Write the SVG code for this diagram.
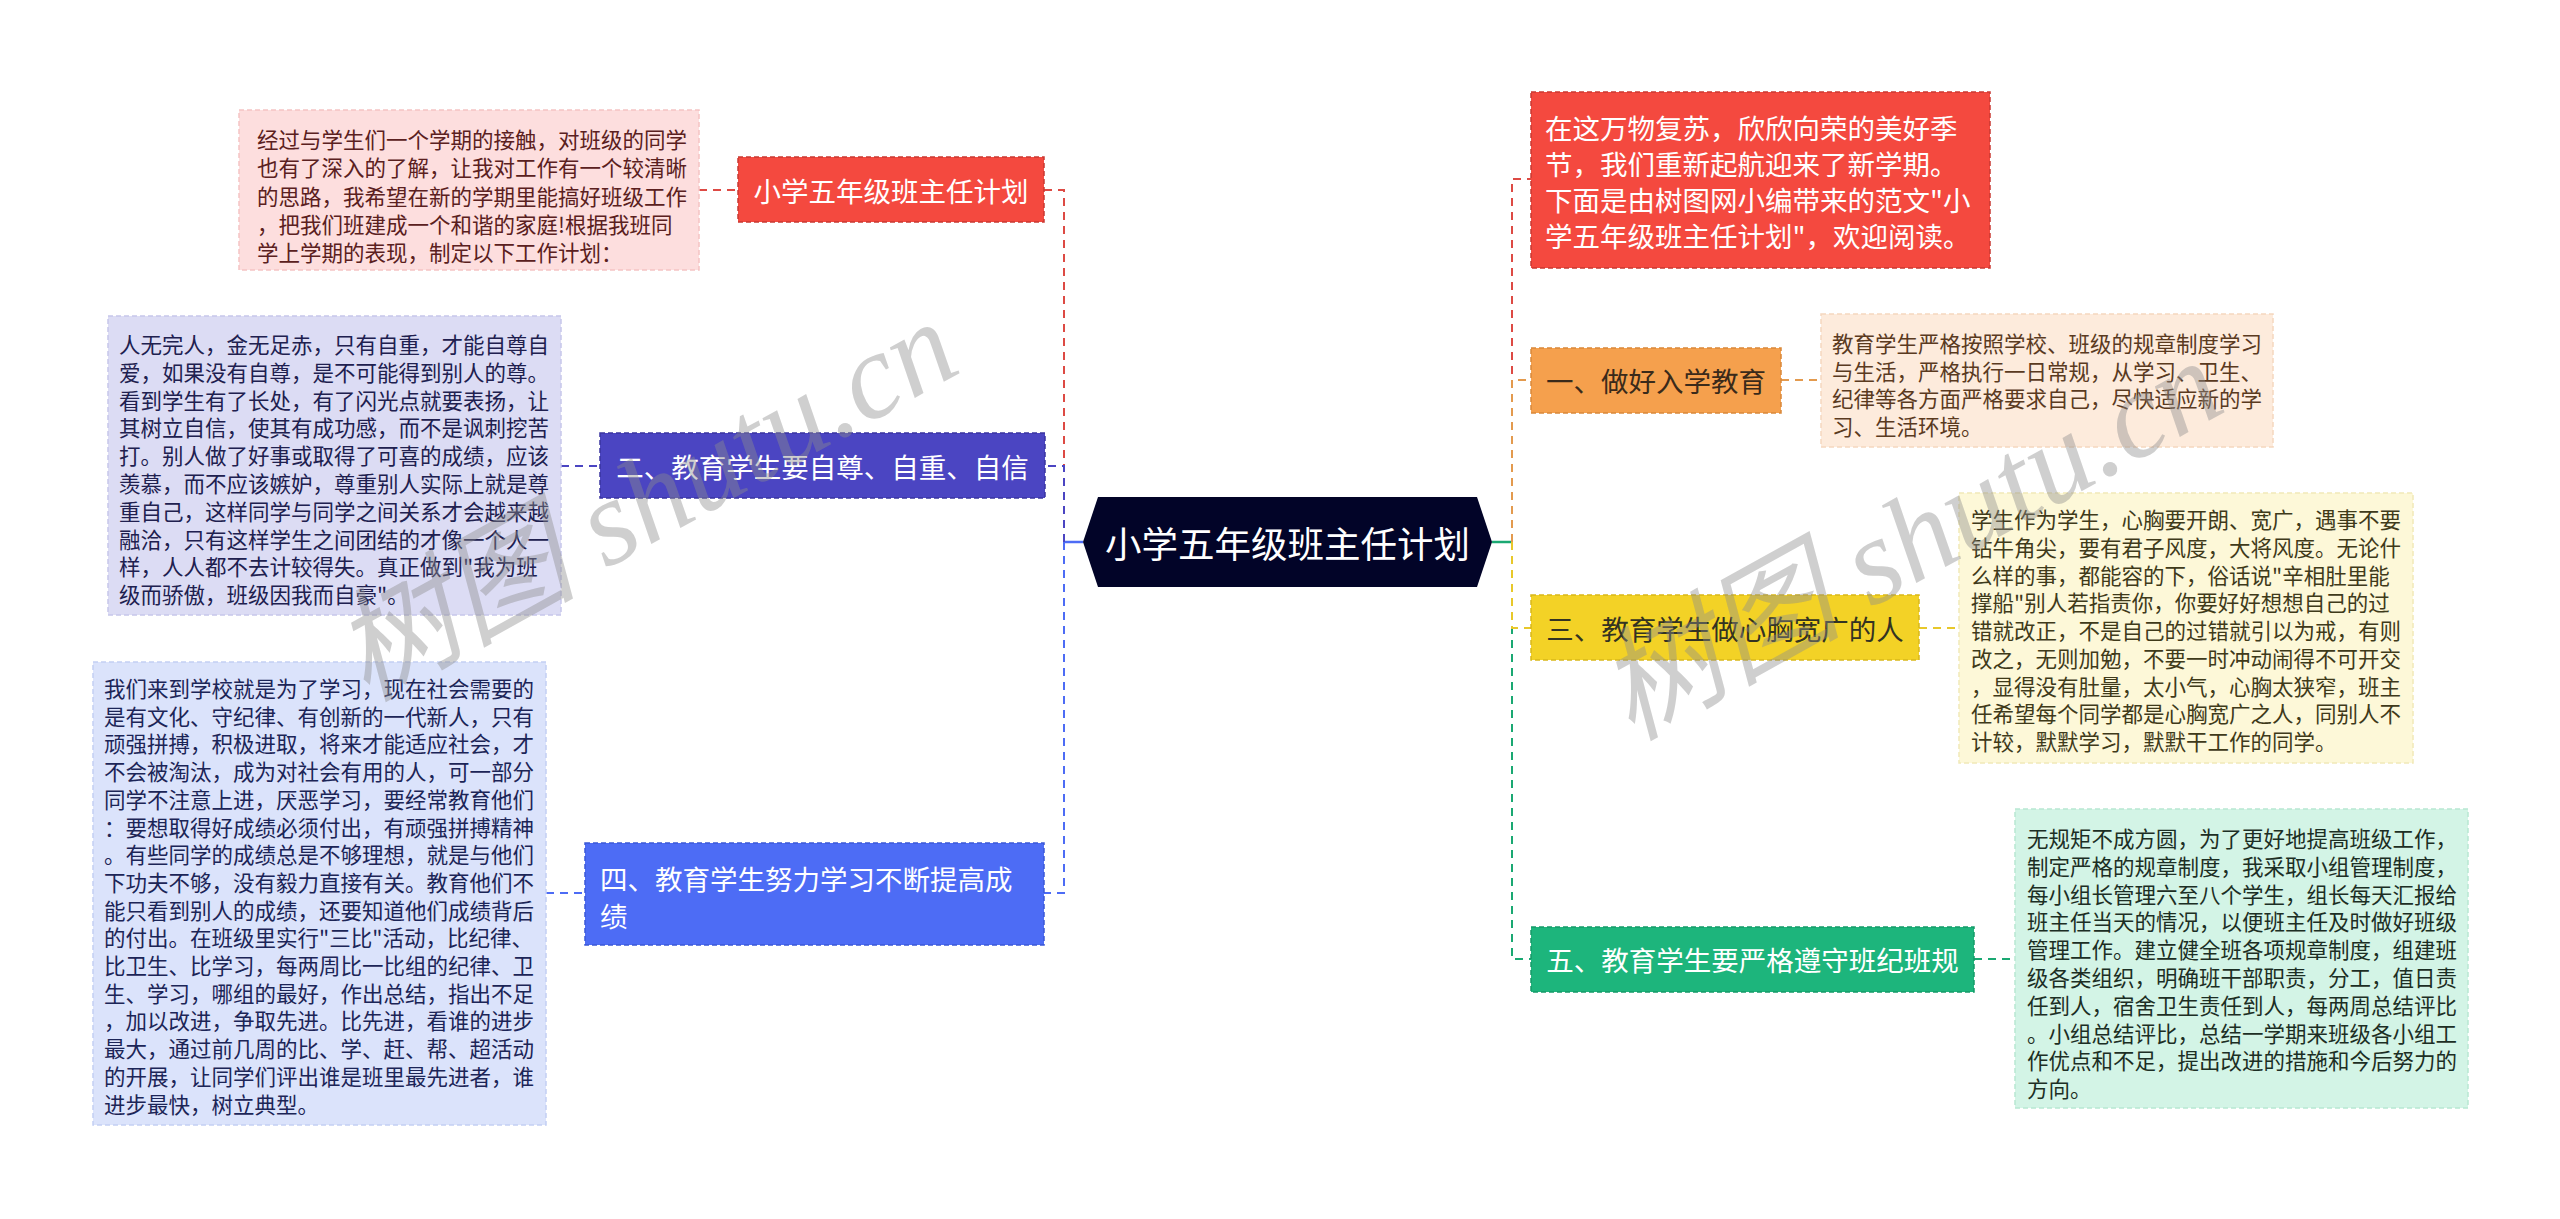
<svg xmlns="http://www.w3.org/2000/svg" width="2560" height="1219" viewBox="0 0 2560 1219">
<style>
text{font-family:"Noto Sans CJK SC","Noto Sans",sans-serif;}
.d{font-size:21.5px;}
.l{font-size:27.5px;}
.lw{fill:#ffffff;}
.c{fill:none;stroke-width:2;stroke-dasharray:8 6;}
.s{fill:none;stroke-width:2.5;}
.b{stroke-width:1.5;stroke-dasharray:5 3;}
.wm{font-family:"Liberation Serif","Noto Sans CJK SC",serif;font-style:italic;font-size:122px;fill:#8c8c8c;fill-opacity:0.42;}
</style>
<rect width="2560" height="1219" fill="#ffffff"/>
<g id="connectors">
<path class="s" stroke="#4d6cf5" d="M1083,542 H1064"/>
<path class="s" stroke="#1aa872" d="M1492,542 H1512"/>
<path class="c" stroke="#dd4a44" d="M1064,542 V190 H1044"/>
<path class="c" stroke="#4b45c2" d="M1064,542 V466 H1045"/>
<path class="c" stroke="#4d6cf5" d="M1064,542 V893 H1044"/>
<path class="c" stroke="#dd4a44" d="M1512,542 V179 H1531"/>
<path class="c" stroke="#e39a4e" d="M1512,542 V380 H1531"/>
<path class="c" stroke="#1aa872" d="M1512,542 V959 H1531"/>
<path class="c" stroke="#e8c82a" d="M1512,542 V628 H1531"/>
<path class="c" stroke="#dd4a44" d="M699,190 H738"/>
<path class="c" stroke="#4b45c2" d="M561,466 H600"/>
<path class="c" stroke="#4d6cf5" d="M546,893 H585"/>
<path class="c" stroke="#e39a4e" d="M1781,380 H1821"/>
<path class="c" stroke="#e8c82a" d="M1919,628 H1959"/>
<path class="c" stroke="#1aa872" d="M1974,959 H2015"/>
</g>
<g id="center">
<polygon points="1083,542 1098,497 1477,497 1492,542 1477,587 1098,587" fill="#020428"/>
<text x="1287.5" y="542" font-size="36.5" fill="#ffffff" text-anchor="middle" dominant-baseline="central">小学五年级班主任计划</text>
</g>
<g id="node-title">
<rect class="b" x="738" y="157" width="306" height="65" fill="#f4493f" stroke="#c93832"/>
<text class="l lw" x="891" y="190" text-anchor="middle" dominant-baseline="central">小学五年级班主任计划</text>
</g>
<g id="detail-title">
<rect class="b" x="239" y="110" width="460" height="160" fill="#fddede" stroke="#f5c4c4"/>
<text class="d" fill="#5a2020" dominant-baseline="central">
<tspan x="257" y="138">经过与学生们一个学期的接触，对班级的同学</tspan>
<tspan x="257" y="166.3">也有了深入的了解，让我对工作有一个较清晰</tspan>
<tspan x="257" y="194.6">的思路，我希望在新的学期里能搞好班级工作</tspan>
<tspan x="257" y="222.9">，把我们班建成一个和谐的家庭!根据我班同</tspan>
<tspan x="257" y="251.2">学上学期的表现，制定以下工作计划：</tspan>
</text>
</g>
<g id="node-2">
<rect class="b" x="600" y="433" width="445" height="65" fill="#4b45c2" stroke="#3a35a0"/>
<text class="l lw" x="822.5" y="466" text-anchor="middle" dominant-baseline="central">二、教育学生要自尊、自重、自信</text>
</g>
<g id="detail-2">
<rect class="b" x="108" y="316" width="453" height="299" fill="#dcdcf4" stroke="#c6c6ea"/>
<text class="d" fill="#20204f" dominant-baseline="central">
<tspan x="119" y="343">人无完人，金无足赤，只有自重，才能自尊自</tspan>
<tspan x="119" y="370.8">爱，如果没有自尊，是不可能得到别人的尊。</tspan>
<tspan x="119" y="398.6">看到学生有了长处，有了闪光点就要表扬，让</tspan>
<tspan x="119" y="426.4">其树立自信，使其有成功感，而不是讽刺挖苦</tspan>
<tspan x="119" y="454.2">打。别人做了好事或取得了可喜的成绩，应该</tspan>
<tspan x="119" y="482">羡慕，而不应该嫉妒，尊重别人实际上就是尊</tspan>
<tspan x="119" y="509.8">重自己，这样同学与同学之间关系才会越来越</tspan>
<tspan x="119" y="537.6">融洽，只有这样学生之间团结的才像一个人一</tspan>
<tspan x="119" y="565.4">样，人人都不去计较得失。真正做到"我为班</tspan>
<tspan x="119" y="593.2">级而骄傲，班级因我而自豪"。</tspan>
</text>
</g>
<g id="node-4">
<rect class="b" x="585" y="843" width="459" height="102" fill="#4d6cf5" stroke="#3b58d6"/>
<text class="l lw" dominant-baseline="central">
<tspan x="600" y="878">四、教育学生努力学习不断提高成</tspan>
<tspan x="600" y="915">绩</tspan>
</text>
</g>
<g id="detail-4">
<rect class="b" x="93" y="662" width="453" height="463" fill="#dbe3fb" stroke="#c4d0f4"/>
<text class="d" fill="#1c2557" dominant-baseline="central">
<tspan x="104" y="687">我们来到学校就是为了学习，现在社会需要的</tspan>
<tspan x="104" y="714.7">是有文化、守纪律、有创新的一代新人，只有</tspan>
<tspan x="104" y="742.4">顽强拼搏，积极进取，将来才能适应社会，才</tspan>
<tspan x="104" y="770.1">不会被淘汰，成为对社会有用的人，可一部分</tspan>
<tspan x="104" y="797.8">同学不注意上进，厌恶学习，要经常教育他们</tspan>
<tspan x="104" y="825.5">：要想取得好成绩必须付出，有顽强拼搏精神</tspan>
<tspan x="104" y="853.2">。有些同学的成绩总是不够理想，就是与他们</tspan>
<tspan x="104" y="880.9">下功夫不够，没有毅力直接有关。教育他们不</tspan>
<tspan x="104" y="908.6">能只看到别人的成绩，还要知道他们成绩背后</tspan>
<tspan x="104" y="936.3">的付出。在班级里实行"三比"活动，比纪律、</tspan>
<tspan x="104" y="964">比卫生、比学习，每两周比一比组的纪律、卫</tspan>
<tspan x="104" y="991.7">生、学习，哪组的最好，作出总结，指出不足</tspan>
<tspan x="104" y="1019.4">，加以改进，争取先进。比先进，看谁的进步</tspan>
<tspan x="104" y="1047.1">最大，通过前几周的比、学、赶、帮、超活动</tspan>
<tspan x="104" y="1074.8">的开展，让同学们评出谁是班里最先进者，谁</tspan>
<tspan x="104" y="1102.5">进步最快，树立典型。</tspan>
</text>
</g>
<g id="node-intro">
<rect class="b" x="1531" y="92" width="459" height="176" fill="#f4493f" stroke="#c93832"/>
<text class="l lw" dominant-baseline="central">
<tspan x="1545" y="127">在这万物复苏，欣欣向荣的美好季</tspan>
<tspan x="1545" y="163">节，我们重新起航迎来了新学期。</tspan>
<tspan x="1545" y="199">下面是由树图网小编带来的范文"小</tspan>
<tspan x="1545" y="235">学五年级班主任计划"，欢迎阅读。</tspan>
</text>
</g>
<g id="node-1">
<rect class="b" x="1531" y="348" width="250" height="65" fill="#f5a04d" stroke="#d9883a"/>
<text class="l" x="1656" y="380" fill="#3a2a1a" text-anchor="middle" dominant-baseline="central">一、做好入学教育</text>
</g>
<g id="detail-1">
<rect class="b" x="1821" y="314" width="452" height="133" fill="#fdebdc" stroke="#f5d7bf"/>
<text class="d" fill="#5a3a1f" dominant-baseline="central">
<tspan x="1832" y="342">教育学生严格按照学校、班级的规章制度学习</tspan>
<tspan x="1832" y="369.5">与生活，严格执行一日常规，从学习、卫生、</tspan>
<tspan x="1832" y="397">纪律等各方面严格要求自己，尽快适应新的学</tspan>
<tspan x="1832" y="424.5">习、生活环境。</tspan>
</text>
</g>
<g id="node-3">
<rect class="b" x="1531" y="595" width="388" height="65" fill="#f3d226" stroke="#d9b81a"/>
<text class="l" x="1725" y="628" fill="#333322" text-anchor="middle" dominant-baseline="central">三、教育学生做心胸宽广的人</text>
</g>
<g id="detail-3">
<rect class="b" x="1959" y="493" width="454" height="270" fill="#fdf8d8" stroke="#f1e9b8"/>
<text class="d" fill="#3f3a1a" dominant-baseline="central">
<tspan x="1971" y="518">学生作为学生，心胸要开朗、宽广，遇事不要</tspan>
<tspan x="1971" y="545.75">钻牛角尖，要有君子风度，大将风度。无论什</tspan>
<tspan x="1971" y="573.5">么样的事，都能容的下，俗话说"辛相肚里能</tspan>
<tspan x="1971" y="601.25">撑船"别人若指责你，你要好好想想自己的过</tspan>
<tspan x="1971" y="629">错就改正，不是自己的过错就引以为戒，有则</tspan>
<tspan x="1971" y="656.75">改之，无则加勉，不要一时冲动闹得不可开交</tspan>
<tspan x="1971" y="684.5">，显得没有肚量，太小气，心胸太狭窄，班主</tspan>
<tspan x="1971" y="712.25">任希望每个同学都是心胸宽广之人，同别人不</tspan>
<tspan x="1971" y="740">计较，默默学习，默默干工作的同学。</tspan>
</text>
</g>
<g id="node-5">
<rect class="b" x="1531" y="927" width="443" height="65" fill="#1db57c" stroke="#159a68"/>
<text class="l lw" x="1752.5" y="959" text-anchor="middle" dominant-baseline="central">五、教育学生要严格遵守班纪班规</text>
</g>
<g id="detail-5">
<rect class="b" x="2015" y="809" width="453" height="299" fill="#d3f4e6" stroke="#b8e8d2"/>
<text class="d" fill="#1c2e24" dominant-baseline="central">
<tspan x="2027" y="837">无规矩不成方圆，为了更好地提高班级工作，</tspan>
<tspan x="2027" y="864.8">制定严格的规章制度，我采取小组管理制度，</tspan>
<tspan x="2027" y="892.6">每小组长管理六至八个学生，组长每天汇报给</tspan>
<tspan x="2027" y="920.4">班主任当天的情况，以便班主任及时做好班级</tspan>
<tspan x="2027" y="948.2">管理工作。建立健全班各项规章制度，组建班</tspan>
<tspan x="2027" y="976">级各类组织，明确班干部职责，分工，值日责</tspan>
<tspan x="2027" y="1003.8">任到人，宿舍卫生责任到人，每两周总结评比</tspan>
<tspan x="2027" y="1031.6">。小组总结评比，总结一学期来班级各小组工</tspan>
<tspan x="2027" y="1059.4">作优点和不足，提出改进的措施和今后努力的</tspan>
<tspan x="2027" y="1087.2">方向。</tspan>
</text>
</g>
<g id="watermark">
<text class="wm" x="645" y="500" text-anchor="middle" dominant-baseline="central" transform="rotate(-29 645 500)">树图 shutu.cn</text>
<text class="wm" x="1910" y="539" text-anchor="middle" dominant-baseline="central" transform="rotate(-29 1910 539)">树图 shutu.cn</text>
</g>
</svg>
